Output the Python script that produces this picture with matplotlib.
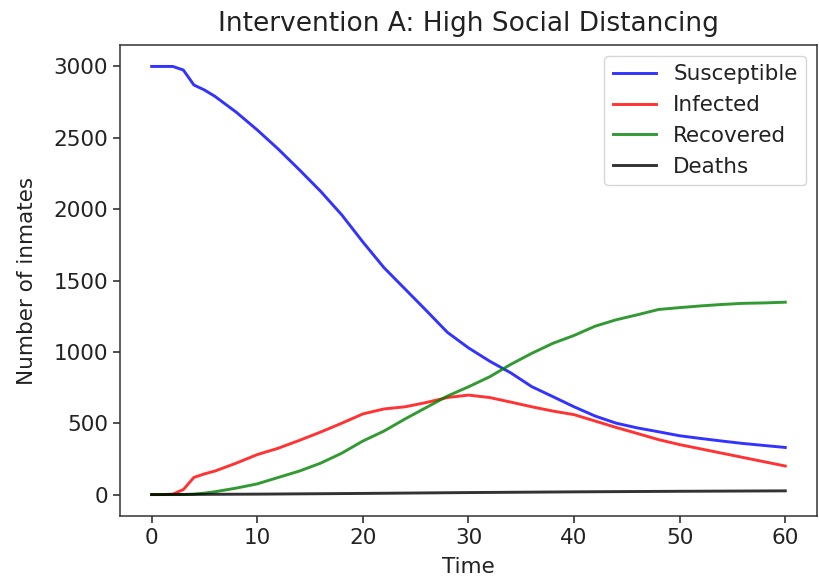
import matplotlib
matplotlib.use("Agg")
import matplotlib.pyplot as plt

# time points (days)
t = [0, 1, 2, 3, 4, 5, 6, 8, 10, 12, 14, 16, 18, 20, 22, 24, 26, 28, 30,
     32, 34, 36, 38, 40, 42, 44, 46, 48, 50, 52, 54, 56, 58, 60]

susceptible = [3000, 3000, 3000, 2975, 2870, 2835, 2790, 2680, 2555, 2420,
               2275, 2125, 1960, 1770, 1590, 1440, 1290, 1137, 1028, 935,
               853, 756, 686, 615, 550, 500, 467, 440, 412, 393, 375, 358,
               344, 330]
infected = [0, 0, 3, 35, 120, 145, 165, 220, 280, 325, 380, 438, 500, 565,
            600, 615, 645, 680, 697, 680, 648, 615, 585, 560, 515, 470, 428,
            385, 350, 320, 290, 260, 230, 200]
recovered = [0, 0, 0, 0, 3, 10, 20, 45, 75, 120, 165, 220, 290, 375, 445,
             530, 610, 690, 755, 825, 912, 990, 1060, 1115, 1180, 1225, 1260,
             1297, 1310, 1322, 1332, 1340, 1343, 1348]

t_deaths = [0, 10, 20, 30, 40, 50, 60]
deaths = [0, 3, 8, 14, 19, 23, 26]

text_color = "#222222"
plt.rcParams["text.color"] = text_color
plt.rcParams["axes.labelcolor"] = text_color
plt.rcParams["xtick.color"] = text_color
plt.rcParams["ytick.color"] = text_color

fig = plt.figure(figsize=(8.19, 5.85), dpi=100)
ax = fig.add_axes([0.1465, 0.118, 0.851, 0.805])

lw = 2.1
ax.plot(t, susceptible, color="b", alpha=0.8, lw=lw, label="Susceptible")
ax.plot(t, infected, color="r", alpha=0.8, lw=lw, label="Infected")
ax.plot(t, recovered, color="g", alpha=0.8, lw=lw, label="Recovered")
ax.plot(t_deaths, deaths, color="k", alpha=0.8, lw=lw, label="Deaths")

ax.set_title("Intervention A: High Social Distancing", fontsize=19, pad=10)
ax.set_xlabel("Time", fontsize=15.5, labelpad=7)
ax.set_ylabel("Number of inmates", fontsize=15.5, labelpad=12)
ax.set_xticks([0, 10, 20, 30, 40, 50, 60])
ax.set_yticks([0, 500, 1000, 1500, 2000, 2500, 3000])
ax.tick_params(labelsize=15.5, length=5, width=1.1)
for s in ax.spines.values():
    s.set_linewidth(1.1)
    s.set_edgecolor("#333333")
ax.legend(fontsize=15.5, loc="upper right")

fig.savefig("out.png", dpi=100)
